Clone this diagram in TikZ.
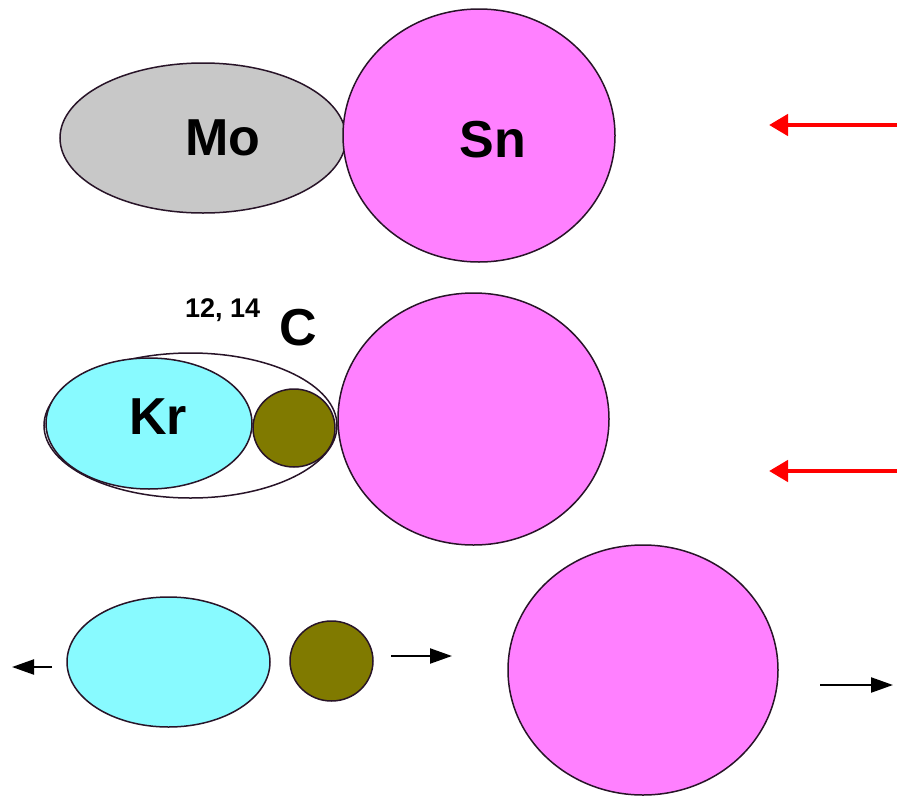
\documentclass[tikz,border=0pt]{standalone}
\usepackage{fontspec}
\setmainfont{Liberation Sans}
\usetikzlibrary{shapes.geometric,arrows.meta}
\definecolor{pinkc}{RGB}{255,128,255}
\definecolor{cyanc}{RGB}{136,250,255}
\definecolor{olivec}{RGB}{128,122,0}
\definecolor{grayc}{RGB}{200,200,200}
\definecolor{outl}{RGB}{40,20,40}
\begin{document}
\begin{tikzpicture}[x=1pt,y=-1pt,
  blob/.style={ellipse,draw=outl,line width=1.5pt,inner sep=0pt},
  big/.style={font=\fontsize{52}{52}\selectfont\bfseries,inner sep=0pt},
  small/.style={font=\fontsize{27}{27}\selectfont\bfseries,inner sep=0pt},
  redarr/.style={draw=red,line width=4.5pt,-{Triangle[length=19pt,width=21pt]}},
  blackarr/.style={draw=black,line width=2.2pt,-{Triangle[length=22pt,width=15pt]}}]
\useasboundingbox (0,0) rectangle (897,798);
% top row
\node[blob,fill=grayc,minimum width=286pt,minimum height=150pt] (mo) at (203,138) {};
\node[blob,fill=pinkc,minimum width=272pt,minimum height=253pt] (sn) at (479,135.5) {};
\node[big] (motext) at (223,138) {Mo};
\node[big] (sntext) at (493,140) {Sn};
\coordinate (r1s) at (897,125);
\coordinate (r1e) at (769,125);
\draw[redarr] (r1s) -- (r1e);
% middle row
\node[blob,fill=white,minimum width=293pt,minimum height=145pt] (cage) at (190.5,425.5) {};
\node[blob,fill=cyanc,minimum width=206pt,minimum height=131pt] (kr) at (149,423.5) {};
\node[blob,fill=olivec,minimum width=82pt,minimum height=78pt] (c1) at (294,428) {};
\node[blob,fill=pinkc,minimum width=271pt,minimum height=252pt] (sn2) at (473.5,419) {};
\node[big] (krtext) at (158,417) {Kr};
\node[small,anchor=base west] (iso) at (185,317) {12, 14};
\node[big,anchor=base west] (ctext) at (279,345) {C};
\coordinate (r2s) at (897,471);
\coordinate (r2e) at (769,471);
\draw[redarr] (r2s) -- (r2e);
% bottom row
\node[blob,fill=cyanc,minimum width=203pt,minimum height=130pt] (kr3) at (168.5,662) {};
\node[blob,fill=olivec,minimum width=83pt,minimum height=80pt] (c3) at (331.5,661) {};
\node[blob,fill=pinkc,minimum width=270pt,minimum height=250pt] (sn3) at (643,670) {};
\coordinate (a1s) at (52,667);
\coordinate (a1e) at (12,667);
\draw[blackarr] (a1s) -- (a1e);
\coordinate (a2s) at (391,656);
\coordinate (a2e) at (452,656);
\draw[blackarr] (a2s) -- (a2e);
\coordinate (a3s) at (820,685);
\coordinate (a3e) at (893,685);
\draw[blackarr] (a3s) -- (a3e);
\end{tikzpicture}
\end{document}
